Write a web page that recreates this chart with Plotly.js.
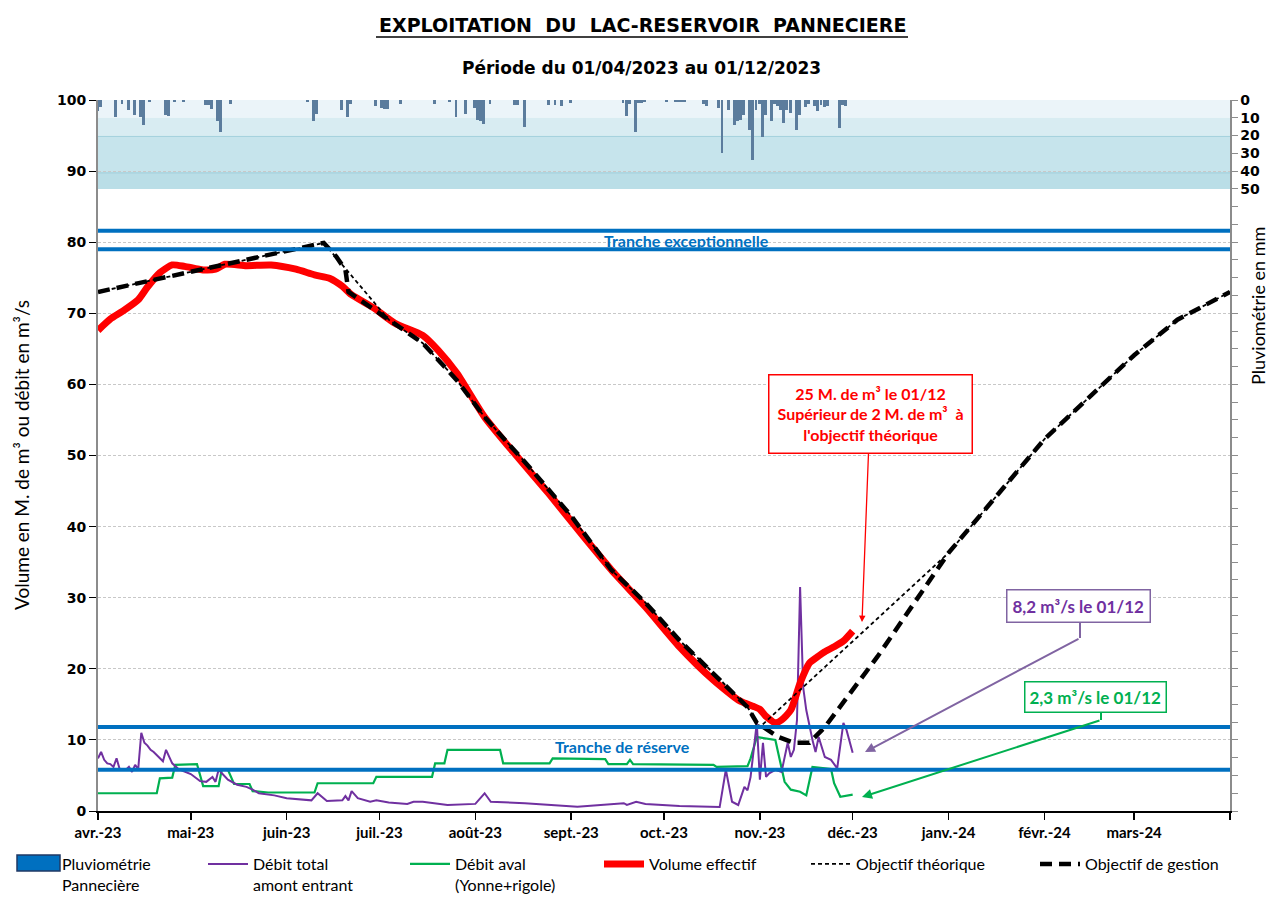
<!DOCTYPE html>
<html><head><meta charset="utf-8">
<script src="https://cdn.plot.ly/plotly-3.0.1.min.js"></script>
<style>html,body{margin:0;padding:0;background:#fff}#chart{width:1268px;height:897px}</style>
</head><body><div id="chart"></div>
<script>
// ---------- axis / tick data ----------
const xStart = '2023-04-01';
const xEnd = '2024-04-01';
const tickDates = ['2023-04-01','2023-05-01','2023-06-01','2023-07-01','2023-08-01','2023-09-01','2023-10-01','2023-11-01','2023-12-01','2024-01-01','2024-02-01','2024-03-01','2024-04-01'];
const tickLabels = ['avr.-23','mai-23','juin-23','juil.-23','août-23','sept.-23','oct.-23','nov.-23','déc.-23','janv.-24','févr.-24','mars-24',''];
const rainTickVals = [0,10,20,30,40,50,60,70,80,90,100,110,120,130,140,150,160,170,180,190,200,210,220,230,240,250,260,270,280,290,300,310,320,330,340,350,360,370,380,390,400];
const rainTickText = ['0','10','20','30','40','50'];

// ---------- reference levels (M. m3) ----------
const trancheExceptionnelle = [79.0, 81.6];
const trancheReserve = [5.8, 11.8];

// ---------- rainfall (mm) ----------
const rainDates = ['2023-04-01','2023-04-02','2023-04-07','2023-04-09','2023-04-11','2023-04-13','2023-04-15','2023-04-16','2023-04-18','2023-04-23','2023-04-24','2023-04-26','2023-04-29',
 '2023-05-06','2023-05-07','2023-05-08','2023-05-10','2023-05-11','2023-05-14',
 '2023-06-08','2023-06-10','2023-06-11','2023-06-19','2023-06-21','2023-06-22','2023-06-30',
 '2023-07-02','2023-07-03','2023-07-04','2023-07-08','2023-07-19','2023-07-24','2023-07-26','2023-07-29',
 '2023-08-01','2023-08-02','2023-08-03','2023-08-04','2023-08-06','2023-08-14','2023-08-15','2023-08-17','2023-08-25','2023-08-27','2023-08-29',
 '2023-09-01','2023-09-18','2023-09-19','2023-09-20','2023-09-22','2023-09-23','2023-09-24','2023-09-25',
 '2023-10-02','2023-10-05','2023-10-06','2023-10-07','2023-10-08','2023-10-14','2023-10-15','2023-10-19','2023-10-20','2023-10-22','2023-10-24','2023-10-25','2023-10-26','2023-10-27','2023-10-29','2023-10-30','2023-10-31',
 '2023-11-01','2023-11-02','2023-11-03','2023-11-05','2023-11-06','2023-11-07','2023-11-08','2023-11-09','2023-11-10','2023-11-11','2023-11-13','2023-11-14','2023-11-16','2023-11-17','2023-11-19','2023-11-20','2023-11-21','2023-11-22','2023-11-23','2023-11-27','2023-11-28','2023-11-29'];
const rainMm = [6,4,9.7,2,5.6,8.4,9.5,14,1,8.4,9,1,1,
 3,3,5,12,18,2,
 1,11.6,7.9,5.6,9.7,2,3.4,
 4.7,5.2,5.2,2,2,1,9.7,8,
 4.7,11,12,13.5,2,3,3,15,3,3,3.4,
 1.5,1.5,9,2,17.8,1.5,1.5,1,
 1,1,1,1,1,2,3.4,4.7,30,5.6,14,12,11,8.4,17,34,5.6,
 2,21,8.4,12,2,3.4,5.6,13,5.6,7.5,17,8.4,3.8,2,3.4,6,2.8,3.8,3.4,15.5,2.8,3.4];

// ---------- débit total amont entrant (m3/s) ----------
const debitTotalDates = ['2023-04-01','2023-04-02','2023-04-03','2023-04-04','2023-04-05','2023-04-06','2023-04-07','2023-04-08','2023-04-09','2023-04-10','2023-04-11','2023-04-12','2023-04-13','2023-04-14','2023-04-15','2023-04-16','2023-04-17','2023-04-18','2023-04-19','2023-04-20','2023-04-22','2023-04-23','2023-04-25','2023-04-27',
 '2023-05-01','2023-05-04','2023-05-06','2023-05-08','2023-05-09','2023-05-10','2023-05-13','2023-05-16','2023-05-19','2023-05-21','2023-05-23','2023-05-28',
 '2023-06-01','2023-06-09','2023-06-11','2023-06-14','2023-06-19','2023-06-20','2023-06-21','2023-06-22','2023-06-24','2023-06-28','2023-06-30',
 '2023-07-04','2023-07-10','2023-07-12','2023-07-15','2023-07-23','2023-08-01','2023-08-04','2023-08-06','2023-08-17','2023-09-03','2023-09-18','2023-09-19','2023-09-22','2023-09-25','2023-10-06','2023-10-19','2023-10-21','2023-10-23','2023-10-25','2023-10-27','2023-10-28','2023-10-29','2023-10-31',
 '2023-11-01','2023-11-02','2023-11-03','2023-11-04','2023-11-06','2023-11-08','2023-11-10','2023-11-11','2023-11-12','2023-11-13','2023-11-14','2023-11-15','2023-11-16','2023-11-18','2023-11-19','2023-11-20','2023-11-22','2023-11-24','2023-11-26','2023-11-28','2023-11-29','2023-12-01'];
const debitTotal = [7.4,8.3,7.2,6.7,6.6,6.2,7.4,5.9,5.9,5.8,6.2,5.5,6.5,5.9,11.0,9.6,9.2,8.6,8.3,7.9,7.0,8.6,6.7,5.9,
 5.2,4.2,4.1,4.8,4.1,5.8,4.4,3.7,3.4,3.0,2.5,2.2,
 1.8,1.5,2.5,1.4,1.5,2.1,1.5,2.8,1.8,1.3,1.5,
 1.2,1.0,1.3,1.3,0.85,1.0,2.5,1.3,1.1,0.6,1.1,0.85,1.3,1.0,0.7,0.55,5.8,1.3,0.85,3.4,2.9,4.8,12.4,
 4.4,9.6,4.8,5.3,5.8,5.5,9.6,7.6,8.6,12.8,31.5,17.4,14.2,10.0,8.3,10.4,7.6,7.2,6.0,12.4,11.4,8.2];

// ---------- débit aval Yonne+rigole (m3/s) ----------
const debitAvalDates = ['2023-04-01','2023-04-20','2023-04-21','2023-04-25','2023-04-26','2023-05-03','2023-05-05','2023-05-10','2023-05-11','2023-05-13','2023-05-15','2023-05-20','2023-05-21','2023-05-26',
 '2023-06-10','2023-06-11','2023-06-29','2023-06-30','2023-07-18','2023-07-19','2023-07-22','2023-07-23','2023-08-09','2023-08-10','2023-08-25','2023-08-26',
 '2023-09-12','2023-09-13','2023-09-19','2023-09-20','2023-09-21','2023-10-17','2023-10-18','2023-10-28','2023-10-29','2023-10-31',
 '2023-11-06','2023-11-08','2023-11-09','2023-11-11','2023-11-14','2023-11-16','2023-11-18','2023-11-24','2023-11-25','2023-11-27','2023-12-01'];
const debitAval = [2.5,2.5,4.6,4.7,6.5,6.6,3.5,3.5,5.8,5.8,3.8,3.8,2.8,2.6,
 2.6,3.9,3.9,4.8,4.8,6.7,6.7,8.6,8.6,6.7,6.7,7.4,
 7.3,6.6,6.6,7.2,6.6,6.5,6.2,6.3,7.4,10.4,
 10.0,5.8,4.1,3.0,2.7,2.2,6.2,5.9,3.9,2.0,2.3];

// ---------- volume effectif (M. m3) ----------
const volumeDates = ['2023-04-01','2023-04-05','2023-04-09','2023-04-14','2023-04-17','2023-04-21','2023-04-25','2023-04-29','2023-05-05','2023-05-09','2023-05-12','2023-05-19','2023-05-27',
 '2023-06-04','2023-06-10','2023-06-15','2023-06-19','2023-06-22','2023-06-29','2023-07-06','2023-07-15','2023-07-20','2023-07-26','2023-08-04','2023-08-15','2023-08-25',
 '2023-09-05','2023-09-14','2023-09-25','2023-10-06','2023-10-17','2023-10-25','2023-10-27','2023-10-30',
 '2023-11-01','2023-11-03','2023-11-06','2023-11-08','2023-11-11','2023-11-14','2023-11-17','2023-11-20','2023-11-22','2023-11-25','2023-11-28','2023-12-01'];
const volumeEffectif = [67.6,69.2,70.3,71.9,73.7,75.7,76.8,76.6,76.1,76.2,76.9,76.7,76.8,
 76.2,75.4,74.9,73.8,72.6,70.8,68.6,66.9,64.8,61.6,55.4,49.6,44.5,
 38.6,33.9,28.7,23.1,18.4,15.6,15.2,14.7,
 14.3,13.3,12.4,12.8,14.2,18.0,20.8,21.8,22.4,23.1,23.9,25.3];

// ---------- objectif théorique (M. m3) ----------
const theoDates = ['2023-04-01','2023-05-01','2023-06-01','2023-06-13','2023-07-04','2023-07-15','2023-07-26','2023-08-04','2023-08-18','2023-09-01','2023-09-14','2023-09-25','2023-10-06','2023-10-17','2023-10-28','2023-11-01','2024-01-01','2024-02-01','2024-03-01','2024-03-15','2024-04-01'];
const objectifTheorique = [73.0,75.8,78.7,79.9,69.1,65.8,60.6,55.4,48.6,41.5,33.9,29.3,24.0,19.4,14.6,11.8,36.3,52.3,64.1,69.1,73.0];

// ---------- objectif de gestion (M. m3) ----------
const gestDates = ['2023-04-01','2023-05-01','2023-06-01','2023-06-13','2023-06-17','2023-06-20','2023-06-21','2023-07-04','2023-07-15','2023-07-26','2023-08-04','2023-08-18','2023-09-01','2023-09-14','2023-09-25','2023-10-06','2023-10-17','2023-10-28','2023-10-31','2023-11-07','2023-11-12','2023-11-17','2023-11-22','2023-12-09','2024-01-01','2024-02-01','2024-03-01','2024-03-15','2024-04-01'];
const objectifGestion = [73.0,75.8,78.7,79.9,78.0,76.1,73.0,69.1,65.8,60.6,55.4,48.6,41.5,33.9,29.3,24.0,19.4,14.6,12.4,10.4,9.6,9.6,11.8,21.7,36.3,52.3,64.1,69.1,73.0];

// ---------- traces ----------
const traces = [
  {type:'bar', x:rainDates, y:rainMm, yaxis:'y2', name:'Pluviométrie', showlegend:false,
   marker:{color:'#5b7c9d', line:{width:0}}, width:86400000*0.95},
  // legend entry for the rainfall series (zero-height, legend swatch only)
  {type:'bar', x:[rainDates[0]], y:[0], yaxis:'y2', name:'Pluviométrie<br>Pannecière', legend:'legend',
   marker:{color:'#0070c0', line:{width:0}}},
  {type:'scatter', mode:'lines', x:debitAvalDates, y:debitAval, name:'Débit aval<br>(Yonne+rigole)', legend:'legend3',
   line:{color:'#00b050', width:2.2}},
  {type:'scatter', mode:'lines', x:debitTotalDates, y:debitTotal, name:'Débit total<br>amont entrant', legend:'legend2',
   line:{color:'#7030a0', width:2}},
  {type:'scatter', mode:'lines', x:volumeDates, y:volumeEffectif, name:'Volume effectif', legend:'legend4',
   line:{color:'#ff0000', width:7, shape:'spline', smoothing:0.6}},
  {type:'scatter', mode:'lines', x:theoDates, y:objectifTheorique, name:'Objectif théorique', legend:'legend5',
   line:{color:'#000000', width:1.8, dash:'4px,3px'}},
  {type:'scatter', mode:'lines', x:gestDates, y:objectifGestion, name:'Objectif de gestion', legend:'legend6',
   line:{color:'#000000', width:4.5, dash:'12px,7px'}}
];

const px2x = p => (p - 98) / 1132;
const px2y = p => (811 - p) / 711;

const shapes = [
  {type:'rect', xref:'paper', yref:'y2', x0:0, x1:1, y0:0, y1:10, fillcolor:'#ebf4f9', line:{width:0}, layer:'below'},
  {type:'rect', xref:'paper', yref:'y2', x0:0, x1:1, y0:10, y1:20.5, fillcolor:'#d8ecf2', line:{width:0}, layer:'below'},
  {type:'rect', xref:'paper', yref:'y2', x0:0, x1:1, y0:20.5, y1:41, fillcolor:'#c6e4ec', line:{width:0}, layer:'below'},
  {type:'rect', xref:'paper', yref:'y2', x0:0, x1:1, y0:41, y1:50, fillcolor:'#badee7', line:{width:0}, layer:'below'},
  {type:'line', xref:'paper', yref:'y2', x0:0, x1:1, y0:20.5, y1:20.5, line:{color:'#a3d1dc', width:1}, layer:'below'},
  {type:'line', xref:'paper', yref:'y2', x0:0, x1:1, y0:41, y1:41, line:{color:'#9ccddb', width:1}, layer:'below'},
  {type:'line', xref:'paper', yref:'y', x0:0, x1:1, y0:trancheExceptionnelle[0], y1:trancheExceptionnelle[0], line:{color:'#0070c0', width:4}},
  {type:'line', xref:'paper', yref:'y', x0:0, x1:1, y0:trancheExceptionnelle[1], y1:trancheExceptionnelle[1], line:{color:'#0070c0', width:4}},
  {type:'line', xref:'paper', yref:'y', x0:0, x1:1, y0:trancheReserve[0], y1:trancheReserve[0], line:{color:'#0070c0', width:4}},
  {type:'line', xref:'paper', yref:'y', x0:0, x1:1, y0:trancheReserve[1], y1:trancheReserve[1], line:{color:'#0070c0', width:4}},
  // title underline
  {type:'line', xref:'paper', yref:'paper', x0:px2x(376), x1:px2x(908), y0:px2y(37), y1:px2y(37), line:{color:'#000', width:1.5}},
  // connector stubs
  {type:'line', xref:'paper', yref:'paper', x0:px2x(1080), x1:px2x(1080), y0:px2y(622), y1:px2y(638), line:{color:'#8064a2', width:2}},
  {type:'line', xref:'paper', yref:'paper', x0:px2x(1101), x1:px2x(1101), y0:px2y(712), y1:px2y(720), line:{color:'#00b050', width:2}},
  // wide legend swatch for the rainfall entry
  {type:'rect', xref:'paper', yref:'paper', x0:px2x(17), x1:px2x(60), y0:px2y(871), y1:px2y(855), fillcolor:'#0070c0', line:{color:'#1f3864', width:1.5}}
];

const C = {xanchor:'center', yanchor:'middle'};
const annotations = [
  Object.assign({xref:'paper', yref:'paper', x:px2x(642), y:px2y(25), showarrow:false,
   text:'<b>EXPLOITATION\u00a0\u00a0DU\u00a0\u00a0LAC-RESERVOIR\u00a0\u00a0PANNECIERE</b>',
   font:{family:'DejaVu Sans', size:19, color:'#000'}}, C),
  Object.assign({xref:'paper', yref:'paper', x:px2x(641), y:px2y(68), showarrow:false,
   text:'<b>Période du 01/04/2023 au 01/12/2023</b>',
   font:{family:'DejaVu Sans', size:17, color:'#000'}}, C),
  Object.assign({xref:'paper', yref:'paper', x:px2x(21), y:px2y(455), showarrow:false, textangle:-90,
   text:'Volume en M. de m³ ou débit en m³/s', font:{family:'Lato', size:19, color:'#000'}}, C),
  Object.assign({xref:'paper', yref:'paper', x:px2x(1258), y:px2y(306), showarrow:false, textangle:-90,
   text:'Pluviométrie en mm', font:{family:'Lato', size:18, color:'#000'}}, C),
  Object.assign({xref:'paper', yref:'y', x:px2x(686), y:(trancheExceptionnelle[0]+trancheExceptionnelle[1])/2, showarrow:false,
   text:'<b>Tranche exceptionnelle</b>', font:{family:'Lato', size:16, color:'#0070c0'}}, C),
  Object.assign({xref:'paper', yref:'y', x:px2x(622), y:9.1, showarrow:false,
   text:'<b>Tranche de réserve</b>', font:{family:'Lato', size:16, color:'#0070c0'}}, C),
  // red callout
  {xref:'paper', yref:'paper', x:px2x(862), y:px2y(622), ax:8, ay:-208, showarrow:true,
   arrowhead:2, arrowsize:1, arrowwidth:1.3, arrowcolor:'#ff0000', standoff:0,
   text:'<b>25 M. de m³ le 01/12<br>Supérieur de 2 M. de m³\u00a0 à<br>l\'objectif théorique</b>',
   font:{family:'Lato', size:16, color:'#ff0000'}, bgcolor:'#ffffff', bordercolor:'#ff0000', borderwidth:1.5, borderpad:8},
  // purple callout
  Object.assign({xref:'paper', yref:'paper', x:px2x(1078), y:px2y(606), showarrow:false,
   text:'<b>8,2 m³/s le 01/12</b>', font:{family:'Lato', size:17, color:'#7030a0'},
   bgcolor:'#ffffff', bordercolor:'#8064a2', borderwidth:1.5, borderpad:5}, C),
  {xref:'paper', yref:'paper', x:px2x(865), y:px2y(752), ax:215, ay:-114, showarrow:true, text:'',
   arrowhead:2, arrowsize:1, arrowwidth:2, arrowcolor:'#8064a2', standoff:0},
  // green callout
  Object.assign({xref:'paper', yref:'paper', x:px2x(1095), y:px2y(697), showarrow:false,
   text:'<b>2,3 m³/s le 01/12</b>', font:{family:'Lato', size:17, color:'#00b050'},
   bgcolor:'#ffffff', bordercolor:'#00b050', borderwidth:1.5, borderpad:4}, C),
  {xref:'paper', yref:'paper', x:px2x(862), y:px2y(797), ax:239, ay:-77, showarrow:true, text:'',
   arrowhead:2, arrowsize:1, arrowwidth:2, arrowcolor:'#00b050', standoff:0}
];

const legendBase = {orientation:'v', xanchor:'left', y:px2y(847), yanchor:'top', itemwidth:40, valign:'top',
  font:{family:'Lato', size:16, color:'#000'}, bgcolor:'rgba(0,0,0,0)', borderwidth:0};
const legendLefts = [12, 203, 405, 599, 806, 1035];

const layout = {
  width:1268, height:897,
  margin:{l:98, r:38, t:100, b:86, autoexpand:false},
  paper_bgcolor:'#ffffff', plot_bgcolor:'#ffffff',
  bargap:0,
  xaxis:{type:'date', range:[xStart, xEnd], tickmode:'array', tickvals:tickDates, ticktext:tickLabels,
    ticks:'outside', ticklen:7, tickwidth:1.5, tickcolor:'#000', showline:true, linecolor:'#000', linewidth:1.5,
    showgrid:false, zeroline:false,
    tickfont:{family:'Liberation Sans Narrow, Lato', size:15, color:'#000', weight:'bold'}},
  yaxis:{range:[0,100], tickmode:'linear', tick0:0, dtick:10, ticks:'outside', ticklen:7, tickcolor:'#000',
    showline:true, linecolor:'#8c8c8c', linewidth:2, showgrid:true, gridcolor:'#c8c8c8', griddash:'3px,2px', gridwidth:1,
    zeroline:false, tickfont:{family:'DejaVu Sans', size:14, color:'#000', weight:'bold'}},
  yaxis2:{overlaying:'y', side:'right', range:[400,0], tickmode:'array', tickvals:rainTickVals,
    ticktext:rainTickVals.map((v,i)=> i < rainTickText.length ? rainTickText[i] : ''),
    ticks:'outside', ticklen:6, tickcolor:'#8c8c8c', showline:true, linecolor:'#8c8c8c', linewidth:1.5,
    showgrid:false, zeroline:false, tickfont:{family:'DejaVu Sans', size:14, color:'#000', weight:'bold'}},
  showlegend:true,
  shapes:shapes,
  annotations:annotations
};
['legend','legend2','legend3','legend4','legend5','legend6'].forEach((k,i)=>{
  layout[k] = Object.assign({}, legendBase, {x:px2x(legendLefts[i])});
});

Plotly.newPlot('chart', traces, layout, {displayModeBar:false, staticPlot:true});
</script>
</body></html>
